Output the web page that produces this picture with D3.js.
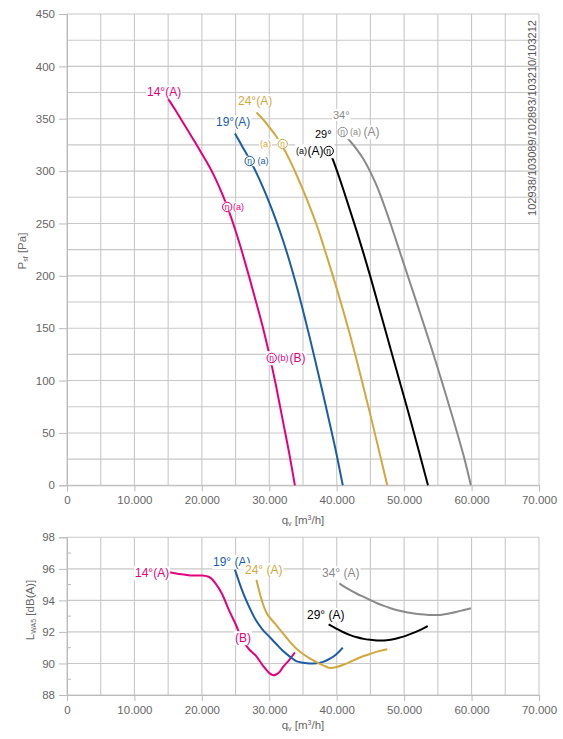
<!DOCTYPE html>
<html><head><meta charset="utf-8">
<script src="https://cdn.jsdelivr.net/npm/d3@7"></script>
<style>
body{margin:0;background:#fff;}
svg{display:block;font-family:"Liberation Sans",Arial,sans-serif;}
</style></head>
<body>
<svg id="c" width="563" height="739"></svg>
<script>
// ---------- DATA ----------
const xTicks = [0,10000,20000,30000,40000,50000,60000,70000];
const pTicks = [0,50,100,150,200,250,300,350,400,450];
const lTicks = [88,90,92,94,96,98];
const drawingNo = "102938/103089/102893/103210/103212";

// pressure curves (q in m3/h, p in Pa)
const q14p = [15000,16000,17000,18000,19000,20000,21000,22000,23000,24000,25000,26000,27000,28000,29000,30000,31000,32000,33000,33800];
const p14  = [369,359,348.5,338,327.5,316.5,305.5,293,278.5,262,243,222,199.5,176,152,125,95,62,29,0];
const q19p = [24900,26000,27000,28000,29000,30000,31000,32000,33000,34000,35000,36000,37000,38000,39000,40000,40900];
const p19  = [336,323.5,312,299.5,285.5,270,253,234.5,214,191.5,167,141,114,86.5,58,29,0];
const q24p = [28100,29000,30000,31000,32000,33000,34000,35000,36000,37000,38000,39000,40000,41000,42000,43000,44000,45000,46000,47000,47500];
const p24  = [356,350,342,333.5,323,311,297,282,266,249,229.5,209,188,166,143,118.5,93,67,40.5,13.5,0];
const q29p = [39250,40000,41000,42000,43000,44000,45000,46000,47000,48000,49000,50000,51000,52000,53000,53540];
const p29  = [314,301,282,262,242,221,199,176,153,130,107,84,61,37,13,0];
const q34p = [41500,42000,43000,44000,45000,46000,47000,48000,49000,50000,51000,52000,53000,54000,55000,56000,57000,58000,59000,59900];
const p34  = [332,328.5,320.5,311,299,285,268,249.5,230,210.5,191,171.5,152,132,111.5,90.5,69,47,24,0];

// sound power curves (q in m3/h, L in dB(A))
const q14l = [15000,16000,17000,18000,19000,20000,21000,22000,23000,24000,25000,26000,27000,28000,29000,30000,30600,31000,31600,32000,33000,33800];
const l14  = [95.8,95.72,95.65,95.6,95.58,95.57,95.5,95.1,94.4,93.4,92.5,91.5,90.9,90.5,89.9,89.4,89.25,89.3,89.5,89.75,90.25,90.7];
const q19l = [24900,25500,26000,27000,28000,29000,30000,31000,32000,33000,34000,35000,36000,37000,38000,39000,40000,40900];
const l19  = [95.95,95.2,94.6,93.6,92.75,92.15,91.7,91.25,90.8,90.45,90.15,90.05,90.0,90.02,90.1,90.3,90.6,91.0];
const q24l = [28100,28500,29000,29600,30000,31000,32000,33000,34000,35000,36000,37000,38000,39000,40000,41000,42000,43000,44000,45000,46000,47500];
const l24  = [95.3,94.6,93.85,93.2,92.95,92.45,91.93,91.4,90.95,90.6,90.32,90.08,89.88,89.72,89.78,89.92,90.1,90.3,90.47,90.62,90.75,90.9];
const q29l = [38800,40000,41000,42000,43000,44000,45000,46000,47000,48000,49000,50000,51000,52000,53000,53500];
const l29  = [92.48,92.2,91.98,91.8,91.66,91.56,91.5,91.46,91.45,91.5,91.6,91.72,91.88,92.05,92.25,92.37];
const q34l = [40400,41000,42000,43000,44000,45000,46000,47000,48000,49000,50000,51000,52000,53000,54000,55000,56000,57000,58000,59000,59900];
const l34  = [95.08,94.9,94.65,94.42,94.22,94.02,93.82,93.65,93.5,93.38,93.28,93.2,93.14,93.1,93.07,93.07,93.12,93.2,93.3,93.4,93.5];

const colors = {c14:"#e4007c", c19:"#1b5ca8", c24:"#d1a83e", c29:"#000000", c34:"#8a8a8a"};

// ---------- DRAW ----------
const svg = d3.select("#c");
const x = d3.scaleLinear().domain([0,70000]).range([67,539]);
const yP = d3.scaleLinear().domain([0,450]).range([485.3,14]);
const yL = d3.scaleLinear().domain([88,98]).range([695,537.3]);
const fmt = d => d===0 ? "0" : d3.format(",")(d).replace(/,/g,".");
const gridC = "#c8c8c8", axisTxt = "#666";

function panel(y, yTicks, yGridStep, yMinor){
  const g = svg.append("g");
  const [y0,y1] = y.domain();
  d3.range(0,70001,5000).forEach(v=>{
    g.append("line").attr("x1",x(v)).attr("x2",x(v)).attr("y1",y(y0)).attr("y2",y(y1))
      .attr("stroke",gridC).attr("stroke-width",1.1);
  });
  d3.range(y0,y1+1e-6,yGridStep).forEach(v=>{
    g.append("line").attr("x1",x(0)).attr("x2",x(70000)).attr("y1",y(v)).attr("y2",y(v))
      .attr("stroke",gridC).attr("stroke-width",1.1);
  });
  if(yMinor) yMinor.forEach(v=>{
    g.append("line").attr("x1",x(0)).attr("x2",x(0)+4).attr("y1",y(v)).attr("y2",y(v)).attr("stroke","#bbb");
  });
  const ya = d3.axisLeft(y).tickValues(yTicks).tickSize(8).tickPadding(4).tickFormat(d=>d);
  const ga = g.append("g").attr("transform",`translate(${x(0)},0)`).call(ya);
  ga.select(".domain").attr("stroke","#bbb");
  ga.selectAll(".tick line").attr("stroke","#bbb");
  ga.selectAll("text").attr("fill",axisTxt).attr("font-size",11.5).attr("font-family","Liberation Sans, Arial, sans-serif");
  const xa = d3.axisBottom(x).tickValues(xTicks).tickSize(6).tickPadding(5).tickFormat(fmt);
  const gx = g.append("g").attr("transform",`translate(0,${y(y0)})`).call(xa);
  gx.select(".domain").attr("stroke","#bbb");
  gx.selectAll(".tick line").attr("stroke","#bbb");
  gx.selectAll("text").attr("fill",axisTxt).attr("font-size",11.5).attr("font-family","Liberation Sans, Arial, sans-serif");
  return g;
}

panel(yP, pTicks, 25, null);
panel(yL, lTicks, 2, [89,91,93,95,97]);

function qLabel(cy){
  const t = svg.append("text").attr("x",x(35000)).attr("y",cy).attr("text-anchor","middle")
    .attr("fill",axisTxt).attr("font-size",11.5);
  t.append("tspan").text("q");
  t.append("tspan").text("v").attr("font-size",7).attr("dy",2);
  t.append("tspan").text(" [m").attr("font-size",11.5).attr("dy",-2);
  t.append("tspan").text("3").attr("font-size",7).attr("dy",-4);
  t.append("tspan").text("/h]").attr("font-size",11.5).attr("dy",4);
}
qLabel(524); qLabel(729);

function yLabel(cx, cy, main, sub, rest){
  const t = svg.append("text").attr("transform",`translate(${cx},${cy}) rotate(-90)`)
    .attr("text-anchor","middle").attr("fill",axisTxt).attr("font-size",11.5);
  t.append("tspan").text(main);
  t.append("tspan").text(sub).attr("font-size",7).attr("dy",2);
  t.append("tspan").text(rest).attr("font-size",11.5).attr("dy",-2);
}
yLabel(26, 251, "P", "sf", " [Pa]");
yLabel(34, 610, "L", "WA5", " [dB(A)]");

svg.append("text").attr("transform","translate(536,118) rotate(-90)")
  .attr("text-anchor","middle").attr("fill","#555").attr("font-size",11).text(drawingNo);

const lineP = d3.line().x(d=>x(d[0])).y(d=>yP(d[1])).curve(d3.curveMonotoneX);
const lineL = d3.line().x(d=>x(d[0])).y(d=>yL(d[1])).curve(d3.curveMonotoneX);
const curvesP = [[q14p,p14,colors.c14],[q19p,p19,colors.c19],[q24p,p24,colors.c24],[q29p,p29,colors.c29],[q34p,p34,colors.c34]];
const curvesL = [[q14l,l14,colors.c14],[q19l,l19,colors.c19],[q24l,l24,colors.c24],[q29l,l29,colors.c29],[q34l,l34,colors.c34]];
curvesP.forEach(([qs,vs,c])=>{
  svg.append("path").datum(qs.map((q,i)=>[q,vs[i]])).attr("d",lineP)
    .attr("fill","none").attr("stroke",c).attr("stroke-width",2);
});
curvesL.forEach(([qs,vs,c])=>{
  svg.append("path").datum(qs.map((q,i)=>[q,vs[i]])).attr("d",lineL)
    .attr("fill","none").attr("stroke",c).attr("stroke-width",2);
});

const labelLayer = svg.append("g");
function label(x0, cy, parts, color, gap){
  gap = gap===undefined ? 1 : gap;
  const g = labelLayer.append("g");
  const bg = g.append("rect").attr("fill","#fff");
  let cx = x0;
  parts.forEach(p=>{
    if(p.eta){
      const r = 4.7;
      g.append("circle").attr("cx",cx+r).attr("cy",cy).attr("r",r).attr("fill","#fff")
        .attr("stroke",color).attr("stroke-width",1);
      g.append("text").attr("x",cx+r).attr("y",cy).attr("dy","0.33em").attr("text-anchor","middle")
        .attr("font-size",8.5).attr("fill",color).text("η");
      cx += 2*r + gap;
    } else {
      const t = g.append("text").attr("x",cx).attr("y",cy).attr("dy","0.35em")
        .attr("font-size",p.s).attr("fill",color).text(p.t);
      cx += t.node().getComputedTextLength() + gap;
    }
  });
  const bb = g.node().getBBox();
  bg.attr("x",bb.x-1).attr("y",bb.y).attr("width",bb.width+2).attr("height",bb.height);
}
label(147, 92, [{t:"14°(A)",s:12}], colors.c14);
label(238, 101, [{t:"24°(A)",s:12}], colors.c24);
label(216, 122, [{t:"19°(A)",s:12}], colors.c19);
label(260, 144, [{t:"(a)",s:9}], colors.c24);
label(278, 144, [{eta:true}], colors.c24);
label(245, 161, [{eta:true},{t:"(a)",s:9}], colors.c19, 3);
label(222.5, 207, [{eta:true},{t:"(a)",s:9}], colors.c14, 1);
label(267, 358, [{eta:true},{t:"(b)",s:9},{t:"(B)",s:12}], colors.c14, 1);
label(333, 115, [{t:"34°",s:11}], colors.c34);
label(338, 132, [{eta:true},{t:"(a)",s:9},{t:"(A)",s:12}], colors.c34, 2.5);
label(315, 134, [{t:"29°",s:11}], colors.c29);
label(296, 151, [{t:"(a)",s:9},{t:"(A)",s:12},{eta:true}], colors.c29, 0.5);
label(135, 573, [{t:"14°(A)",s:12}], colors.c14);
label(213, 562, [{t:"19° (A)",s:12}], colors.c19);
label(245, 570, [{t:"24° (A)",s:12}], colors.c24);
label(235, 638, [{t:"(B)",s:12}], colors.c14);
label(322, 573, [{t:"34° (A)",s:12}], colors.c34);
label(307, 615, [{t:"29° (A)",s:12}], colors.c29);
</script>
</body></html>
